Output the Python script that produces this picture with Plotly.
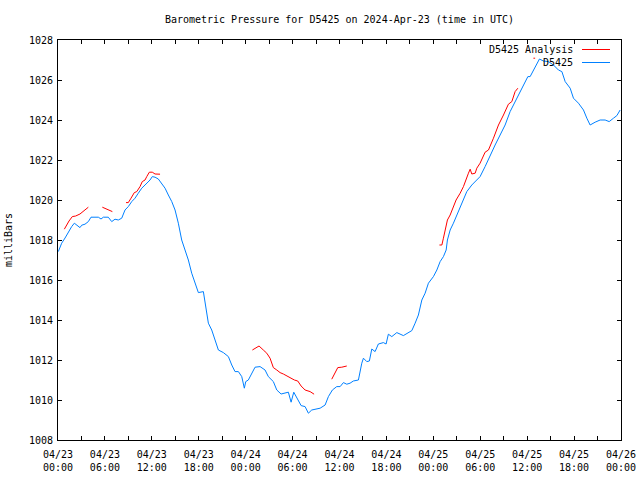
import plotly.graph_objects as go
import pandas as pd

START = pd.Timestamp("2024-04-23 00:00")

# Observed pressure (hours since 2024-04-23 00:00 UTC, mbar)
obs_hours = [0.04, 0.47, 0.90, 1.32, 1.75, 2.09, 2.39, 2.81, 3.03, 3.45, 3.88, 4.22, 5.16, 5.50, 5.80,
             6.43, 6.87, 7.29, 7.71, 8.15, 8.57, 8.99, 9.43, 9.85, 10.27, 10.71, 11.13, 11.77, 12.06,
             12.41, 12.83, 13.27, 13.69, 14.11, 14.55, 14.97, 15.39, 15.82, 16.25, 16.67, 17.10, 17.53,
             17.95, 18.59, 18.81, 19.23, 19.66, 20.08, 20.51, 21.15, 21.79, 22.22, 22.64, 23.07, 23.50,
             23.83, 24.01, 24.34, 24.78, 25.20, 25.84, 26.48, 26.90, 27.54, 27.98, 28.53, 29.46, 29.81,
             30.15, 30.54, 31.09, 31.60, 32.02, 32.45, 32.88, 33.52, 34.16, 34.58, 35.09, 35.65, 36.08,
             36.50, 36.93, 37.35, 37.77, 38.42, 38.85, 39.06, 39.49, 39.82, 40.13, 40.55, 40.97, 41.61,
             41.96, 42.25, 42.69, 43.33, 44.17, 44.61, 45.25, 45.67, 46.09, 46.53, 46.95, 47.37, 48.01,
             48.45, 48.87, 49.29, 49.64, 49.80, 50.15, 50.57, 51.00, 51.43, 51.85, 52.28, 52.92, 53.56,
             53.98, 54.62, 55.26, 55.90, 56.54, 57.18, 57.82, 58.46, 59.10, 59.74, 60.09, 60.38, 60.80,
             61.24, 61.57, 62.08, 62.72, 63.36, 64.00, 64.44, 64.86, 65.50, 65.92, 66.56, 67.20, 67.63,
             68.05, 68.69, 69.33, 69.97, 70.49, 71.04, 71.47, 71.89]
obs_mbar = [1017.42, 1017.84, 1018.10, 1018.42, 1018.67, 1018.84, 1018.75, 1018.62, 1018.74, 1018.79,
            1018.92, 1019.14, 1019.14, 1019.05, 1019.14, 1019.14, 1018.92, 1019.04, 1019.00, 1019.09,
            1019.50, 1019.67, 1019.92, 1020.09, 1020.34, 1020.59, 1020.75, 1021.00, 1021.17, 1021.14,
            1021.05, 1020.84, 1020.59, 1020.25, 1019.92, 1019.50, 1018.84, 1018.00, 1017.50, 1017.00,
            1016.34, 1015.84, 1015.37, 1015.42, 1014.84, 1013.84, 1013.50, 1013.00, 1012.50, 1012.37,
            1012.17, 1011.75, 1011.42, 1011.42, 1011.17, 1010.59, 1010.92, 1011.00, 1011.34, 1011.64,
            1011.67, 1011.50, 1011.17, 1010.92, 1010.50, 1010.30, 1010.39, 1009.89, 1010.39, 1010.09,
            1009.72, 1009.67, 1009.34, 1009.50, 1009.54, 1009.59, 1009.75, 1010.17, 1010.50, 1010.67,
            1010.67, 1010.87, 1010.79, 1010.84, 1010.95, 1011.00, 1011.84, 1012.09, 1011.92, 1011.95,
            1012.55, 1012.42, 1012.80, 1012.87, 1012.80, 1013.29, 1013.17, 1013.37, 1013.22, 1013.34,
            1013.47, 1013.84, 1014.25, 1015.00, 1015.34, 1015.84, 1016.17, 1016.50, 1016.92, 1017.17,
            1017.50, 1018.00, 1018.50, 1018.84, 1019.25, 1019.67, 1020.00, 1020.42, 1020.75, 1021.00,
            1021.17, 1021.67, 1022.25, 1022.75, 1023.25, 1023.75, 1024.42, 1024.92, 1025.42, 1025.92,
            1026.17, 1026.17, 1026.50, 1026.84, 1027.05, 1026.95, 1026.92, 1026.75, 1026.50, 1026.42,
            1025.92, 1025.59, 1025.09, 1024.84, 1024.50, 1024.09, 1023.75, 1023.89, 1024.00, 1024.00,
            1023.92, 1024.09, 1024.22, 1024.50]

# Analysis pressure segments (None = gap)
ana_hours = [0.81, 1.11, 1.41, 1.83, 2.26, 2.81, 3.24, 3.54, 3.88, None,
             5.67, 6.23, 6.65, 6.95, None,
             8.70, 8.99, 9.34, 9.76, 10.07, 10.49, 10.78, 11.13, 11.35, 11.68, 12.06, 12.41, 13.05, None,
             24.86, 25.29, 25.71, 26.26, 26.70, 27.12, 27.54, 27.98, 28.40, 28.82, 29.26, 29.68, 30.23,
             30.66, 31.09, 31.60, 32.24, 32.75, None,
             35.01, 35.44, 35.78, 36.29, 36.93, None,
             48.78, 49.09, 49.29, 49.51, 49.80, 50.15, 50.57, 50.91, 51.43, 51.85, 52.49, 52.71, 52.92,
             53.35, 53.56, 53.98, 54.62, 55.05, 55.69, 56.33, 56.97, 57.60, 58.04, 58.46, 58.81, None,
             60.80, 61.02]
ana_mbar = [1018.54, 1018.75, 1018.95, 1019.17, 1019.20, 1019.30, 1019.42, 1019.50, 1019.64, None,
            1019.64, 1019.54, 1019.45, 1019.42, None,
            1019.87, 1019.87, 1020.09, 1020.37, 1020.42, 1020.67, 1020.92, 1021.00, 1021.17, 1021.39,
            1021.39, 1021.30, 1021.29, None,
            1012.50, 1012.62, 1012.70, 1012.50, 1012.34, 1012.09, 1011.62, 1011.50, 1011.37, 1011.30,
            1011.20, 1011.09, 1011.00, 1010.95, 1010.70, 1010.50, 1010.42, 1010.29, None,
            1011.04, 1011.37, 1011.62, 1011.64, 1011.70, None,
            1017.75, 1017.75, 1018.09, 1018.50, 1019.00, 1019.25, 1019.67, 1020.00, 1020.34, 1020.67,
            1021.34, 1021.54, 1021.30, 1021.34, 1021.59, 1021.84, 1022.39, 1022.50, 1023.09, 1023.75,
            1024.25, 1024.79, 1024.92, 1025.42, 1025.59, None,
            1027.09, 1027.09]

tick_hours = list(range(0, 73, 3))
tick_labels = [START + pd.Timedelta(hours=h) for h in tick_hours]
tick_text = [t.strftime("%m/%d<br>%H:%M") if h % 6 == 0 else "" for h, t in zip(tick_hours, tick_labels)]


def to_time(hours):
    return [None if h is None else START + pd.Timedelta(hours=h) for h in hours]


FONT = "DejaVu Sans Mono"
RED = "#ff0000"
BLUE = "#0080ff"

fig = go.Figure()
fig.add_trace(go.Scatter(x=to_time(ana_hours), y=ana_mbar, mode="lines", name="D5425 Analysis",
                         line=dict(color=RED, width=1), connectgaps=False))
fig.add_trace(go.Scatter(x=to_time(obs_hours), y=obs_mbar, mode="lines", name="D5425",
                         line=dict(color=BLUE, width=1)))

fig.update_layout(
    width=640, height=480,
    margin=dict(l=58, r=19, t=40, b=40, autoexpand=False),
    paper_bgcolor="white", plot_bgcolor="white",
    showlegend=False,
    font=dict(family=FONT, size=10, color="black"),
    title=dict(text="Barometric Pressure for D5425 on 2024-Apr-23 (time in UTC)",
               x=0.5, xref="paper", y=1 - 19 / 480, yref="container", yanchor="middle",
               font=dict(family=FONT, size=10, color="black")),
)
fig.update_xaxes(
    range=[START, START + pd.Timedelta(hours=72)],
    tickmode="array", tickvals=tick_labels, ticktext=tick_text,
    ticks="inside", ticklen=4, tickcolor="black", tickwidth=1,
    showline=True, linecolor="black", linewidth=1, mirror="ticks",
    showgrid=False, zeroline=False, ticklabelstandoff=5, automargin=False,
    tickfont=dict(family=FONT, size=10, color="black"),
)
fig.update_yaxes(
    range=[1008, 1028], tickmode="linear", tick0=1008, dtick=2,
    ticks="inside", ticklen=4, tickcolor="black", tickwidth=1,
    showline=True, linecolor="black", linewidth=1, mirror="ticks",
    showgrid=False, zeroline=False, ticklabelstandoff=2, automargin=False,
    tickfont=dict(family=FONT, size=10, color="black"),
    title=dict(text="milliBars", font=dict(family=FONT, size=10, color="black"), standoff=14),
)

# gnuplot-style key: text right-aligned, sample line to its right
key_rows = [("D5425 Analysis", RED, 49.5), ("D5425", BLUE, 62.5)]
for label, color, ypx in key_rows:
    yp = 1 - (ypx - 40) / 400
    fig.add_annotation(x=(575 - 58) / 563, y=yp, xref="paper", yref="paper", text=label,
                       showarrow=False, xanchor="right", yanchor="middle",
                       font=dict(family=FONT, size=10, color="black"))
    fig.add_shape(type="line", xref="paper", yref="paper",
                  x0=(582 - 58) / 563, x1=(610 - 58) / 563, y0=yp, y1=yp,
                  line=dict(color=color, width=1))

fig.write_html("out.html", config={"displayModeBar": False},
               post_script="document.body.style.margin='0';document.body.style.overflow='hidden';")
